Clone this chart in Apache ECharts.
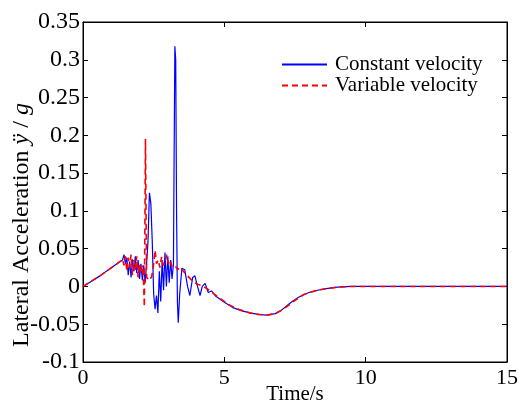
<!DOCTYPE html>
<html>
<head>
<meta charset="utf-8">
<script src="https://cdn.jsdelivr.net/npm/echarts@6/dist/echarts.min.js"></script>
<style>html,body{margin:0;padding:0;background:#fff}#c{width:518px;height:403px}</style>
</head>
<body>
<div id="c"></div>
<script>
// Constant velocity (blue solid)
const tBlue = [0,0.3,0.6,0.9,1.2,1.4,1.45,1.5,1.55,1.6,1.65,1.7,1.75,1.8,1.85,1.9,1.95,2.0,2.05,2.1,2.15,2.2,2.25,2.3,2.35,2.4,2.45,2.5,2.55,2.6,2.65,2.7,2.75,2.8,2.85,2.9,2.95,3.0,3.05,3.1,3.15,3.2,3.22,3.25,3.28,3.31,3.34,3.37,3.42,3.5,3.6,3.7,3.78,3.88,3.96,4.05,4.14,4.22,4.32,4.43,4.55,4.7,4.85,5.0,5.3,5.6,5.9,6.2,6.5,6.8,7.0,7.2,7.4,7.6,7.8,8.0,8.3,8.6,9.0,9.5,10,15];
const vBlue = [0,0.007,0.014,0.022,0.030,0.035,0.042,0.030,0.038,0.015,0.033,0.012,0.036,0.020,0.040,0.018,0.035,0.010,0.030,0.008,0.028,0.005,0.030,0.060,0.124,0.110,0.060,-0.010,-0.030,-0.012,-0.035,0.020,-0.020,0.035,-0.005,0.045,0.000,0.040,0.005,0.035,0.010,0.030,0.150,0.318,0.300,0.100,-0.020,-0.048,-0.010,0.024,0.022,0.000,-0.012,0.012,0.014,0.000,-0.012,0.000,0.004,-0.008,-0.006,-0.013,-0.017,-0.021,-0.028,-0.032,-0.035,-0.037,-0.038,-0.036,-0.032,-0.026,-0.020,-0.015,-0.011,-0.008,-0.005,-0.003,-0.001,0,0,0];
// Variable velocity (red dashed)
const tRed = [0,0.3,0.6,0.9,1.2,1.4,1.45,1.5,1.55,1.6,1.65,1.7,1.75,1.8,1.85,1.9,1.95,2.0,2.05,2.1,2.14,2.17,2.21,2.25,2.35,2.43,2.5,2.55,2.6,2.66,2.72,2.78,2.84,2.9,2.96,3.02,3.08,3.15,3.25,3.35,3.43,3.55,3.67,3.8,3.9,4.05,4.26,4.5,4.85,5.2,5.55,5.9,6.2,6.5,6.8,7.0,7.2,7.4,7.6,7.8,8.0,8.3,8.6,9.0,9.5,10,15];
const vRed = [0,0.007,0.014,0.022,0.030,0.036,0.028,0.040,0.020,0.038,0.025,0.042,0.015,0.035,0.022,0.040,0.012,0.030,0.018,0.028,0.010,-0.027,0.195,0.012,0.008,0.013,0.030,0.048,0.030,0.035,0.025,0.039,0.028,0.031,0.042,0.030,0.035,0.026,0.028,0.022,0.026,0.020,0.015,0.010,0.006,0.003,0,-0.006,-0.016,-0.025,-0.031,-0.035,-0.037,-0.038,-0.036,-0.032,-0.027,-0.021,-0.016,-0.011,-0.008,-0.005,-0.003,-0.001,0,0,0];
const xTicks = [0,5,10,15];
const yTicks = [-0.1,-0.05,0,0.05,0.1,0.15,0.2,0.25,0.3,0.35];

const pairs = (t, v) => t.map((x, i) => [x, v[i]]);
const FONT = 'Liberation Serif';
const chart = echarts.init(document.getElementById('c'), null, {renderer: 'canvas'});
const baseX = {type:'value', min:0, max:15, interval:5, splitLine:{show:false}, nameMoveOverlap:false,
  axisLine:{onZero:false, lineStyle:{color:'#000', width:1}}, axisTick:{inside:true, length:5, lineStyle:{color:'#000'}}};
const baseY = {type:'value', min:-0.1, max:0.35, interval:0.05, splitLine:{show:false}, nameMoveOverlap:false,
  axisLine:{onZero:false, lineStyle:{color:'#000', width:1}}, axisTick:{inside:true, length:5, lineStyle:{color:'#000'}}};
chart.setOption({
  animation:false,
  backgroundColor:'#fff',
  grid:{left:83, right:11, top:22, bottom:41, show:true, borderColor:'#000', borderWidth:1,
    containLabel:false, outerBoundsMode:'none'},
  legend:{orient:'vertical', left:276, top:49, itemWidth:45, itemHeight:12, itemGap:0,
    itemStyle:{opacity:0},
    textStyle:{fontFamily:FONT, fontSize:21, color:'#000', padding:[0,0,0,3]},
    data:['Constant velocity','Variable velocity']},
  xAxis:[
    Object.assign({}, baseX, {position:'bottom', name:'Time/s', nameLocation:'middle', nameGap:22,
      nameTextStyle:{fontFamily:FONT, fontSize:21, color:'#000'},
      axisLabel:{fontFamily:FONT, fontSize:22, color:'#000', margin:5,
        formatter: v => xTicks.includes(v) ? String(v) : ''}}),
    Object.assign({}, baseX, {position:'top', axisLabel:{show:false}})
  ],
  yAxis:[
    Object.assign({}, baseY, {position:'left', name:'Lateral Acceleration {i|ÿ} / {i|g}', nameLocation:'middle', nameGap:49,
      nameTextStyle:{fontFamily:FONT, fontSize:24, color:'#000', padding:[0,66,0,0],
        rich:{i:{fontFamily:FONT, fontSize:24, fontStyle:'italic', color:'#000'}}},
      axisLabel:{fontFamily:FONT, fontSize:24, color:'#000', margin:3,
        formatter: v => { const r = Math.round(v*100)/100; return yTicks.some(t => Math.abs(t - r) < 1e-9) ? String(r) : ''; }}}),
    Object.assign({}, baseY, {position:'right', axisLabel:{show:false}})
  ],
  series:[
    {name:'Constant velocity', type:'line', data:pairs(tBlue, vBlue), symbol:'none', xAxisIndex:0, yAxisIndex:0,
      lineStyle:{color:'#0000ff', width:1.2}, itemStyle:{color:'#0000ff'}},
    {name:'Variable velocity', type:'line', data:pairs(tRed, vRed), symbol:'none', xAxisIndex:0, yAxisIndex:0,
      lineStyle:{color:'#ff0000', width:1.6, type:[6,4]}, itemStyle:{color:'#ff0000'}}
  ]
});
</script>
</body>
</html>
